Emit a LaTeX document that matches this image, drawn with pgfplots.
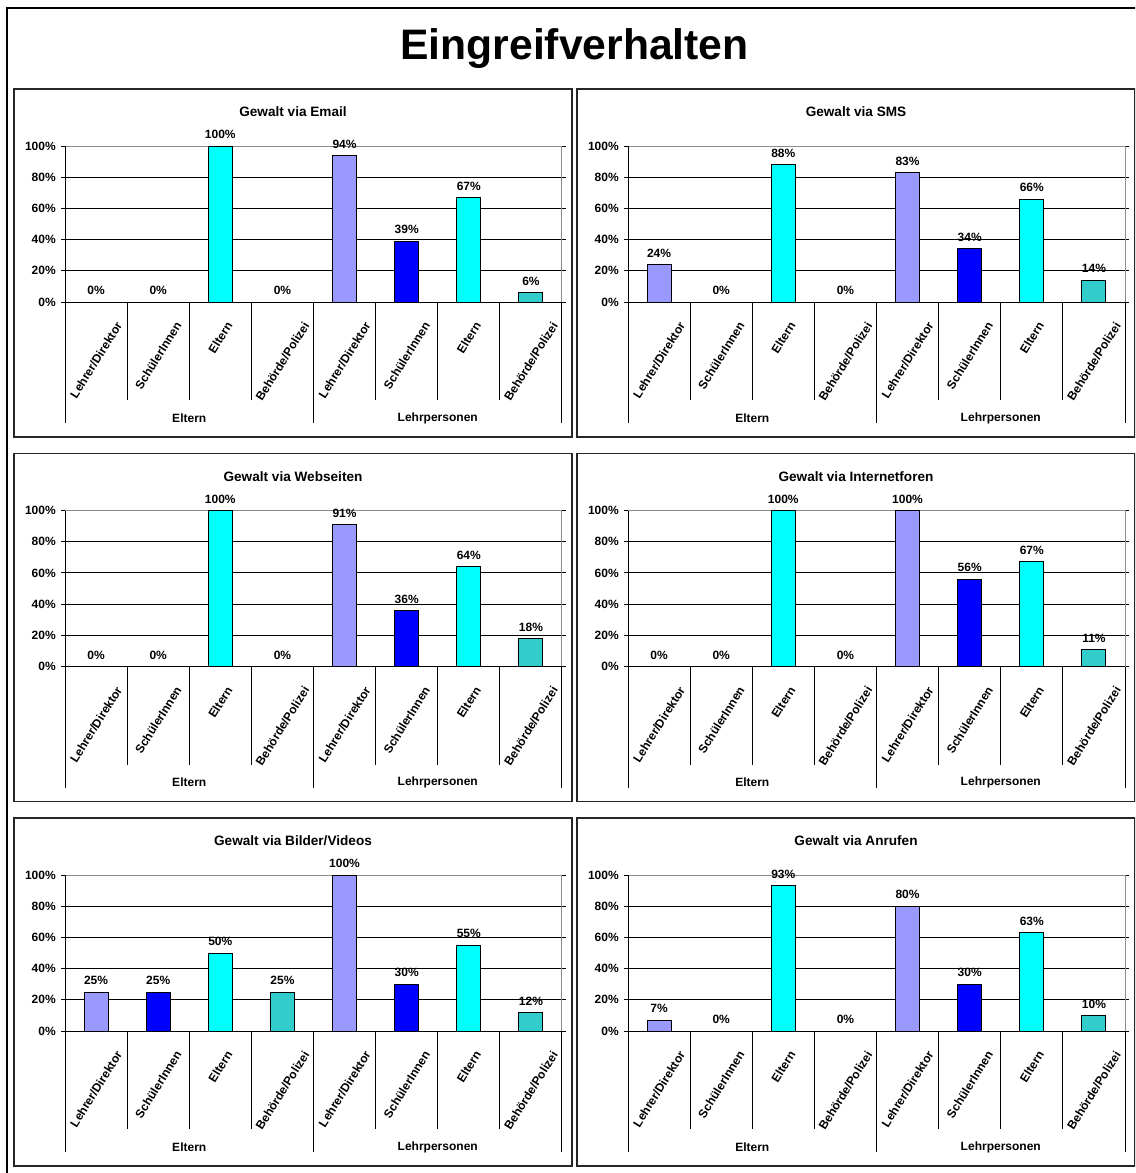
\documentclass[border=0pt]{standalone}
\usepackage{pgfplots}
\pgfplotsset{compat=1.18}
\usepackage{graphicx}
\usepackage{fontspec}
\setmainfont{Liberation Sans}
\definecolor{cA}{HTML}{9999FF}
\definecolor{cB}{HTML}{0000FF}
\definecolor{cC}{HTML}{00FFFF}
\definecolor{cD}{HTML}{33CCCC}
\newcommand\lab[1]{\rotatebox{58}{#1}}
\newcommand\smallfont{\bfseries\fontsize{9}{10}\selectfont}
\pgfplotsset{
  panel/.style={
    scale only axis, width=372.75pt, height=117pt, anchor=south west,
    clip=false,
    xmin=-0.5, xmax=7.5, ymin=0, ymax=100,
    /pgf/number format/assume math mode=true,
    xtick={0,...,7},
    xticklabels={\lab{Lehrer/Direktor},\lab{SchülerInnen},\lab{Eltern},\lab{Behörde/Polizei},\lab{Lehrer/Direktor},\lab{SchülerInnen},\lab{Eltern},\lab{Behörde/Polizei}},
    xtick style={draw=none},
    xticklabel style={anchor=north, inner sep=0pt, yshift=-11pt, font=\smallfont},
    ytick={0,20,40,60,80,100},
    yticklabels={0\%,20\%,40\%,60\%,80\%,100\%},
    yticklabel style={anchor=east, inner sep=0pt, xshift=-3.75pt, font=\smallfont},
    ytick style={black, line width=0.75pt},
    tick align=outside, major tick length=3pt,
    ymajorgrids, major grid style={black, line width=0.75pt},
    axis line style={draw=black!45, line width=0.75pt},
    nodes near coords={\pgfmathprintnumber{\pgfplotspointmeta}\%},
    every node near coord/.append style={black, anchor=south, inner sep=0pt, yshift=5pt, font=\smallfont},
  },
  bars/.style={ybar, bar width=18pt, bar shift=0pt, draw=black, line width=0.75pt, fill=#1},
}
\newcommand\extras{%
  \draw[black, line width=0.75pt] (rel axis cs:0,1) -- (rel axis cs:0,0) -- (rel axis cs:1,0);
  \draw[black, line width=0.75pt]
    (axis cs:0.5,0) -- ++(0pt,-73.5pt) (axis cs:1.5,0) -- ++(0pt,-73.5pt) (axis cs:2.5,0) -- ++(0pt,-73.5pt)
    (axis cs:4.5,0) -- ++(0pt,-73.5pt) (axis cs:5.5,0) -- ++(0pt,-73.5pt) (axis cs:6.5,0) -- ++(0pt,-73.5pt)
    (axis cs:-0.5,0) -- ++(0pt,-90.75pt) (axis cs:3.5,0) -- ++(0pt,-90.75pt) (axis cs:7.5,0) -- ++(0pt,-90.75pt);
  \node[font=\smallfont] at ([yshift=-87pt]axis cs:1.5,0) {Eltern};
  \node[font=\smallfont] at ([yshift=-87pt]axis cs:5.5,0) {Lehrpersonen};
}
\newcommand\panel[4]{%
  \draw[line width=1pt, black!85] ({#1*0.75pt},{-#2*0.75pt}) rectangle ({(#1+558)*0.75pt},{-(#2+348)*0.75pt});
  \node[font=\bfseries\fontsize{10.2}{12}\selectfont] at ({(#1+279)*0.75pt},{-(#2+23)*0.75pt}) {#3};
  \begin{axis}[panel, at={({(#1+51)*0.75pt},{-(#2+213)*0.75pt})}]
  #4
  \extras
  \end{axis}%
}
\begin{document}
\begin{tikzpicture}
\useasboundingbox (0,0) rectangle (851.25pt,-879.75pt);
\clip (0,0) rectangle (851.25pt,-879.75pt);
\fill[white] (0,0) rectangle (851.25pt,-879.75pt);
\draw[line width=1.5pt] ({7*0.75pt},{-8*0.75pt}) rectangle (870pt,-900pt);
\node[anchor=base, font=\bfseries\fontsize{32}{36}\selectfont] at ({574.5*0.75pt},{-60*0.75pt}) {Eingreifverhalten};

\panel{14}{89}{Gewalt via Email}{
  \addplot[bars=cA] coordinates {(0,0) (4,94)};
  \addplot[bars=cB] coordinates {(1,0) (5,39)};
  \addplot[bars=cC] coordinates {(2,100) (6,67)};
  \addplot[bars=cD] coordinates {(3,0) (7,6)};
}
\panel{577}{89}{Gewalt via SMS}{
  \addplot[bars=cA] coordinates {(0,24) (4,83)};
  \addplot[bars=cB] coordinates {(1,0) (5,34)};
  \addplot[bars=cC] coordinates {(2,88) (6,66)};
  \addplot[bars=cD] coordinates {(3,0) (7,14)};
}
\panel{14}{453.5}{Gewalt via Webseiten}{
  \addplot[bars=cA] coordinates {(0,0) (4,91)};
  \addplot[bars=cB] coordinates {(1,0) (5,36)};
  \addplot[bars=cC] coordinates {(2,100) (6,64)};
  \addplot[bars=cD] coordinates {(3,0) (7,18)};
}
\panel{577}{453.5}{Gewalt via Internetforen}{
  \addplot[bars=cA] coordinates {(0,0) (4,100)};
  \addplot[bars=cB] coordinates {(1,0) (5,56)};
  \addplot[bars=cC] coordinates {(2,100) (6,67)};
  \addplot[bars=cD] coordinates {(3,0) (7,11)};
}
\panel{14}{818}{Gewalt via Bilder/Videos}{
  \addplot[bars=cA] coordinates {(0,25) (4,100)};
  \addplot[bars=cB] coordinates {(1,25) (5,30)};
  \addplot[bars=cC] coordinates {(2,50) (6,55)};
  \addplot[bars=cD] coordinates {(3,25) (7,12)};
}
\panel{577}{818}{Gewalt via Anrufen}{
  \addplot[bars=cA] coordinates {(0,7) (4,80)};
  \addplot[bars=cB] coordinates {(1,0) (5,30)};
  \addplot[bars=cC] coordinates {(2,93) (6,63)};
  \addplot[bars=cD] coordinates {(3,0) (7,10)};
}
\end{tikzpicture}
\end{document}
